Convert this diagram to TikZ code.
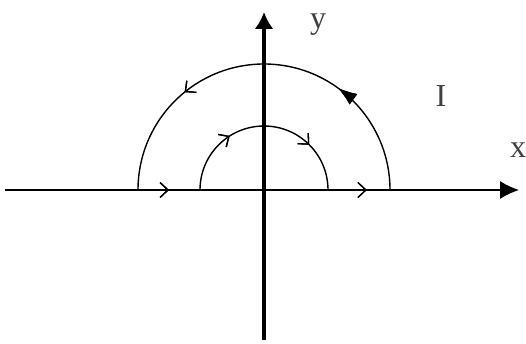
\documentclass[tikz,border=0pt]{standalone}
\usepackage{fontspec}
\setmainfont{Liberation Serif}
\usetikzlibrary{arrows.meta, decorations.markings}

\begin{document}
\begin{tikzpicture}[
    x=1pt, y=1pt,
    xaxis/.style={line width=1.4pt, -{Latex[length=19pt, width=18pt]}},
    yaxis/.style={line width=4.5pt, -{Latex[length=17pt, width=19pt]}},
    contour/.style={line width=1.4pt},
    open/.style={decoration={markings,
        mark=at position #1 with {\arrow{Straight Barb[length=8pt, width=15pt, line width=1.3pt]}}},
        postaction={decorate}},
    solid/.style={decoration={markings,
        mark=at position #1 with {\arrow{Latex[length=19pt, width=13pt]}}},
        postaction={decorate}},
    lbl/.style={font=\fontsize{32}{32}\selectfont, text=black!75, inner sep=0pt}
  ]
    \useasboundingbox (0,0) rectangle (526,343);

    \coordinate (O)  at (264,153);
    \coordinate (xl) at (5,153);
    \coordinate (xr) at (519,153);
    \coordinate (yb) at (264,3);
    \coordinate (yt) at (264,331);

    % axes
    \draw[xaxis, open=0.319, open=0.704] (xl) -- (xr);
    \draw[yaxis] (yb) -- (yt);

    % outer arc, counterclockwise
    \draw[contour, solid=0.3, open=0.717]
      ([xshift=126pt]O) arc[start angle=0, end angle=180, radius=126pt];

    % inner arc, clockwise
    \draw[contour, open=0.32, open=0.75]
      ([xshift=-64pt]O) arc[start angle=180, end angle=0, radius=64pt];

    \node[lbl] (ylab) at (318,318) {y};
    \node[lbl] (ilab) at (441,247) {I};
    \node[lbl] (xlab) at (518,193) {x};
\end{tikzpicture}
\end{document}
